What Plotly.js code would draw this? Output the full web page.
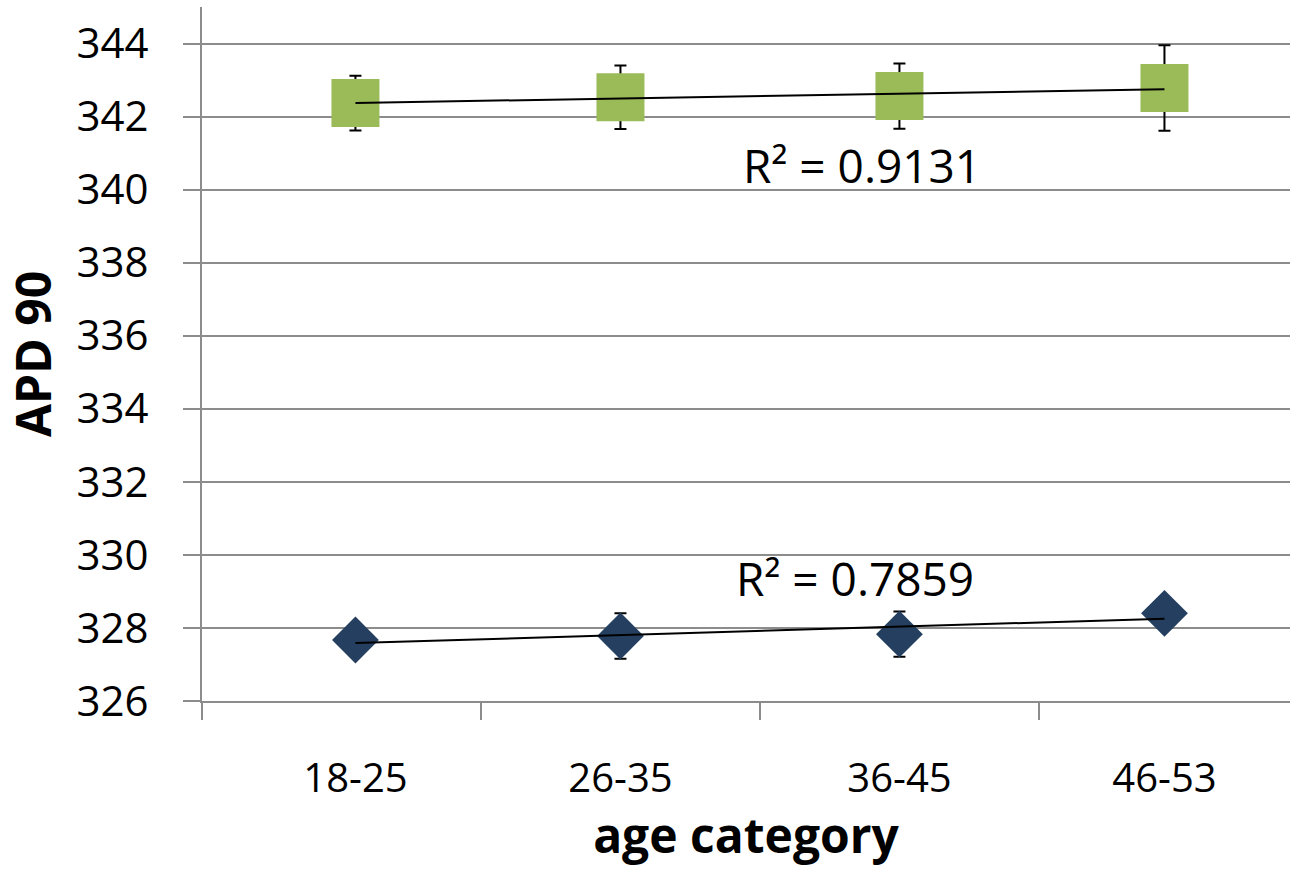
<!DOCTYPE html>
<html>
<head>
<meta charset="utf-8">
<script src="https://cdn.plot.ly/plotly-3.0.1.min.js"></script>
<style>
  html, body { margin: 0; padding: 0; background: #ffffff; }
  #chart { width: 1297px; height: 873px; }
</style>
</head>
<body>
<div id="chart"></div>
<script>
// ---- data ----
const categories = ['18-25', '26-35', '36-45', '46-53'];
const ageMean = [21.5, 31, 41, 50.5];           // x position of each age group (years)
const olderValues = [342.37, 342.53, 342.56, 342.78];   // green squares
const olderErr = [0.75, 0.87, 0.89, 1.17];
const youngerValues = [327.67, 327.78, 327.83, 328.40]; // dark blue diamonds
const youngerErr = [0.4, 0.62, 0.62, 0.4];
const r2Labels = ['R\u00b2 = 0.9131', 'R\u00b2 = 0.7859'];

function linFit(xs, ys) {
  const n = xs.length;
  const mx = xs.reduce((a, b) => a + b, 0) / n;
  const my = ys.reduce((a, b) => a + b, 0) / n;
  let sxy = 0, sxx = 0;
  for (let i = 0; i < n; i++) { sxy += (xs[i] - mx) * (ys[i] - my); sxx += (xs[i] - mx) ** 2; }
  const b = sxy / sxx, a = my - b * mx;
  return x => a + b * x;
}

const fitOld = linFit(ageMean, olderValues);
const fitYoung = linFit(ageMean, youngerValues);
const ends = [ageMean[0], ageMean[ageMean.length - 1]];

const green = '#9BBB59';
const navy = '#243F60';
const grid = '#8c8c8c';
const FONT = '"Open Sans", "Noto Sans", sans-serif';

const traces = [
  // error bars drawn first (underneath markers)
  { x: ageMean, y: olderValues, type: 'scatter', mode: 'markers',
    marker: { size: 1, color: 'rgba(0,0,0,0)' },
    error_y: { type: 'data', array: olderErr, visible: true, color: '#000', thickness: 2, width: 6 },
    hoverinfo: 'skip', showlegend: false },
  { x: ageMean, y: youngerValues, type: 'scatter', mode: 'markers',
    marker: { size: 1, color: 'rgba(0,0,0,0)' },
    error_y: { type: 'data', array: youngerErr, visible: true, color: '#000', thickness: 2, width: 6 },
    hoverinfo: 'skip', showlegend: false },
  { x: ageMean, y: olderValues, type: 'scatter', mode: 'markers', name: 'older',
    marker: { symbol: 'square', size: 48, color: green }, showlegend: false },
  { x: ageMean, y: youngerValues, type: 'scatter', mode: 'markers', name: 'younger',
    marker: { symbol: 'diamond', size: 36, color: navy }, showlegend: false },
  { x: ends, y: ends.map(fitOld), type: 'scatter', mode: 'lines',
    line: { color: '#000', width: 2 }, hoverinfo: 'skip', showlegend: false },
  { x: ends, y: ends.map(fitYoung), type: 'scatter', mode: 'lines',
    line: { color: '#000', width: 2 }, hoverinfo: 'skip', showlegend: false },
  // invisible trace to carry the category tick labels on xaxis2
  { x: ageMean, y: youngerValues, type: 'scatter', mode: 'markers', xaxis: 'x2',
    marker: { size: 1, color: 'rgba(0,0,0,0)' }, hoverinfo: 'skip', showlegend: false }
];

const layout = {
  width: 1297, height: 873,
  margin: { l: 202, r: 7, t: 7, b: 172 },
  paper_bgcolor: '#ffffff', plot_bgcolor: '#ffffff',
  font: { family: FONT, color: '#000' },
  showlegend: false,
  xaxis: {
    range: [16, 55], tickmode: 'array', tickvals: [16, 26, 36, 46],
    showticklabels: false, ticks: 'outside', ticklen: 17, tickwidth: 2, tickcolor: grid,
    showline: true, linecolor: grid, linewidth: 2, showgrid: false, zeroline: false,
    title: { text: '<b>age category</b>\u00a0\u00a0\u00a0', font: { size: 48, family: FONT, color: '#000' }, standoff: 100 }
  },
  xaxis2: {
    overlaying: 'x', anchor: 'y', side: 'bottom', range: [16, 55],
    tickmode: 'array', tickvals: ageMean, ticktext: categories,
    ticks: '', showline: false, showgrid: false, zeroline: false,
    tickfont: { size: 40, family: FONT, color: '#000' }, ticklabelstandoff: 50
  },
  yaxis: {
    range: [326, 345], tick0: 326, dtick: 2,
    ticks: 'outside', ticklen: 17, tickwidth: 2, tickcolor: grid,
    showline: true, linecolor: grid, linewidth: 2,
    showgrid: true, gridcolor: grid, gridwidth: 2, zeroline: false,
    tickfont: { size: 42, family: FONT, color: '#000' }, ticklabelstandoff: 26,
    title: { text: '<b>APD 90</b>', font: { size: 48, family: FONT, color: '#000' }, standoff: 14 }
  },
  annotations: [
    { x: 39.67, y: 340.67, xref: 'x', yref: 'y', text: r2Labels[0], showarrow: false,
      font: { size: 46, family: FONT, color: '#000' } },
    { x: 39.4, y: 329.36, xref: 'x', yref: 'y', text: r2Labels[1], showarrow: false,
      font: { size: 46, family: FONT, color: '#000' } }
  ]
};

Plotly.newPlot('chart', traces, layout, { displayModeBar: false, staticPlot: true });
</script>
</body>
</html>
